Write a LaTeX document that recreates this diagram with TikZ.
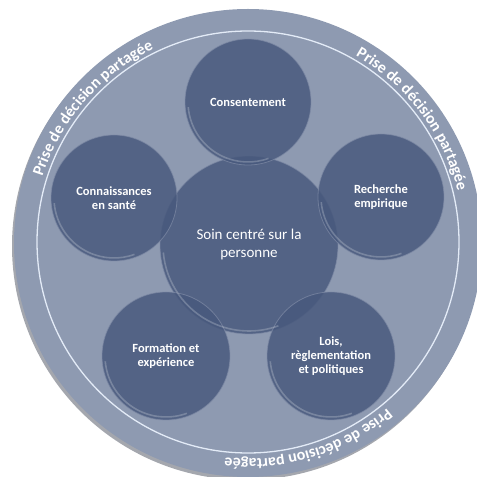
\documentclass[tikz,border=0pt]{standalone}
\usepackage{fontspec}
\setmainfont{Carlito}
\usetikzlibrary{decorations.text,calc}

\definecolor{ringfill}{HTML}{8E9AB1}
\definecolor{rimgray}{HTML}{A4A7AE}
\definecolor{ringline}{HTML}{E3EBF7}
\definecolor{bubblefill}{HTML}{48597D}
\definecolor{bubbleedge}{HTML}{7F8BA6}

\newcommand{\arcfont}{\fontsize{16}{16}\selectfont\bfseries}

\tikzset{
  bubble/.style={circle, inner sep=0pt, minimum size=#1,
    fill=bubblefill, fill opacity=0.83, text opacity=1, text=white,
    draw=bubbleedge, draw opacity=0.7, line width=0.8pt, align=center,
    font=\fontsize{12.5}{14}\selectfont\bfseries},
  hub/.style={bubble=178pt, font=\fontsize{15}{18}\selectfont},
  glint/.style={draw=white, draw opacity=0.22, line width=1.6pt},
  arclabel/.style={decorate, decoration={text along path, text align=center,
    text color=white, text={|\arcfont|#1}}}
}

\begin{document}
\begin{tikzpicture}[x=1pt, y=1pt]
  \useasboundingbox (0,0) rectangle (477,477);

  % large disc with its grey rim and the thin light ring
  \fill[rimgray] (246,231) circle (234);
  \fill[ringfill] (248,234) circle (234);
  \draw[ringline, line width=1.3pt] (248,235) circle (211);

  % curved captions, written clockwise so the letters face outward
  \path[arclabel={Prise de décision partagée}]
    (248,234) ++(170:216) arc[start angle=170, end angle=108, radius=216];
  \path[arclabel={Prise de décision partagée}]
    (248,234) ++(68:216) arc[start angle=68, end angle=6, radius=216];
  \path[arclabel={Prise de décision partagée}]
    (248,234) ++(-42:216) arc[start angle=-42, end angle=-104, radius=216];

  % central theme and the five surrounding themes
  \node[hub] (soin) at (249,232) {Soin centré sur la\\personne};
  \node[bubble=126pt] (cons) at (248,375) {Consentement};
  \node[bubble=126pt] (conn) at (114,279) {Connaissances\\en santé};
  \node[bubble=126pt] (rech) at (381,280) {Recherche\\empirique};
  \node[bubble=128pt] (form) at (166,121) {Formation et\\expérience};
  \node[bubble=128pt] (lois) at (331,121) {Lois,\\règlementation\\et politiques};

  % soft glass highlight on the lower-left edge of each disc
  \draw[glint] ($(soin.center)+(185:86)$) arc[start angle=185, end angle=290, radius=86];
  \foreach \n/\r in {cons/60, conn/60, rech/60, form/61, lois/61}{
    \draw[glint] ($(\n.center)+(185:\r)$) arc[start angle=185, end angle=290, radius=\r];
  }
\end{tikzpicture}
\end{document}
